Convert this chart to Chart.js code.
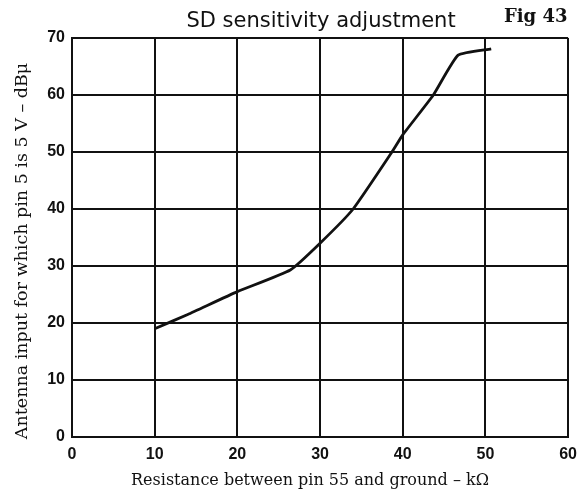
<!DOCTYPE html>
<html>
<head>
<meta charset="utf-8">
<script src="https://cdn.jsdelivr.net/npm/chart.js@4/dist/chart.umd.min.js"></script>
<style>
  html, body { margin: 0; padding: 0; background: #fff; }
  #wrap { width: 585px; height: 498px; }
</style>
</head>
<body>
<div id="wrap"><canvas id="c" width="585" height="498"></canvas></div>
<script>
// Resistance (kΩ) and antenna input level (dBμ) along the curve
const resistance = [10, 14, 20, 26.4, 30, 34, 38.7, 40, 43.7, 46.7, 50.7];
const antennaInput = [19, 21.5, 25.5, 29.3, 34, 40, 50, 53, 60, 67, 68.1];

const xTicks = [0, 10, 20, 30, 40, 50, 60];
const yTicks = [0, 10, 20, 30, 40, 50, 60, 70];

const titleText = 'SD sensitivity adjustment';
const figText = 'Fig 43';
const xTitle = 'Resistance between pin 55 and ground \u2013 k\u03A9';
const yTitle = 'Antenna input for which pin 5 is 5 V \u2013 dB\u03BC';

// Heading, figure number and axis captions
const captions = {
  id: 'captions',
  afterDraw(chart) {
    const ctx = chart.ctx;
    ctx.save();
    ctx.fillStyle = '#111';
    ctx.textBaseline = 'alphabetic';
    ctx.textAlign = 'center';
    ctx.font = '21px "DejaVu Sans", sans-serif';
    ctx.fillText(titleText, 321, 27);
    ctx.textAlign = 'left';
    ctx.font = 'bold 18px "DejaVu Serif", serif';
    ctx.fillText(figText, 504, 22);

    ctx.textAlign = 'center';
    ctx.textBaseline = 'middle';
    ctx.font = '16px "DejaVu Serif", serif';
    ctx.fillText(xTitle, 310, 481);

    ctx.translate(22, 251);
    ctx.rotate(-Math.PI / 2);
    ctx.font = '17.5px "DejaVu Serif", serif';
    ctx.fillText(yTitle, 0, 0);
    ctx.restore();
  }
};

const tickFont = { family: '"Liberation Sans", Arial, sans-serif', size: 16, weight: 'bold' };

new Chart(document.getElementById('c'), {
  type: 'line',
  data: {
    datasets: [{
      data: resistance.map((r, i) => ({ x: r, y: antennaInput[i] })),
      borderColor: '#111',
      borderWidth: 2.8,
      pointRadius: 0,
      tension: 0.15,
      fill: false
    }]
  },
  options: {
    responsive: false,
    animation: false,
    layout: { padding: { top: 38, right: 16, left: 0, bottom: 0 } },
    plugins: { legend: { display: false }, tooltip: { enabled: false } },
    scales: {
      x: {
        type: 'linear',
        min: 0, max: 60,
        afterBuildTicks(s) { s.ticks = xTicks.map(v => ({ value: v })); },
        afterFit(s) { s.height = 61; },
        grid: { color: '#111', lineWidth: 2, drawTicks: false },
        border: { color: '#111', width: 2 },
        ticks: { color: '#111', font: tickFont, padding: 8 },
        title: { display: false }
      },
      y: {
        min: 0, max: 70,
        afterBuildTicks(s) { s.ticks = yTicks.map(v => ({ value: v })); },
        afterFit(s) { s.width = 72; },
        grid: { color: '#111', lineWidth: 2, drawTicks: false },
        border: { color: '#111', width: 2 },
        ticks: { color: '#111', font: tickFont, padding: 7 },
        title: { display: false }
      }
    }
  },
  plugins: [captions]
});
</script>
</body>
</html>
